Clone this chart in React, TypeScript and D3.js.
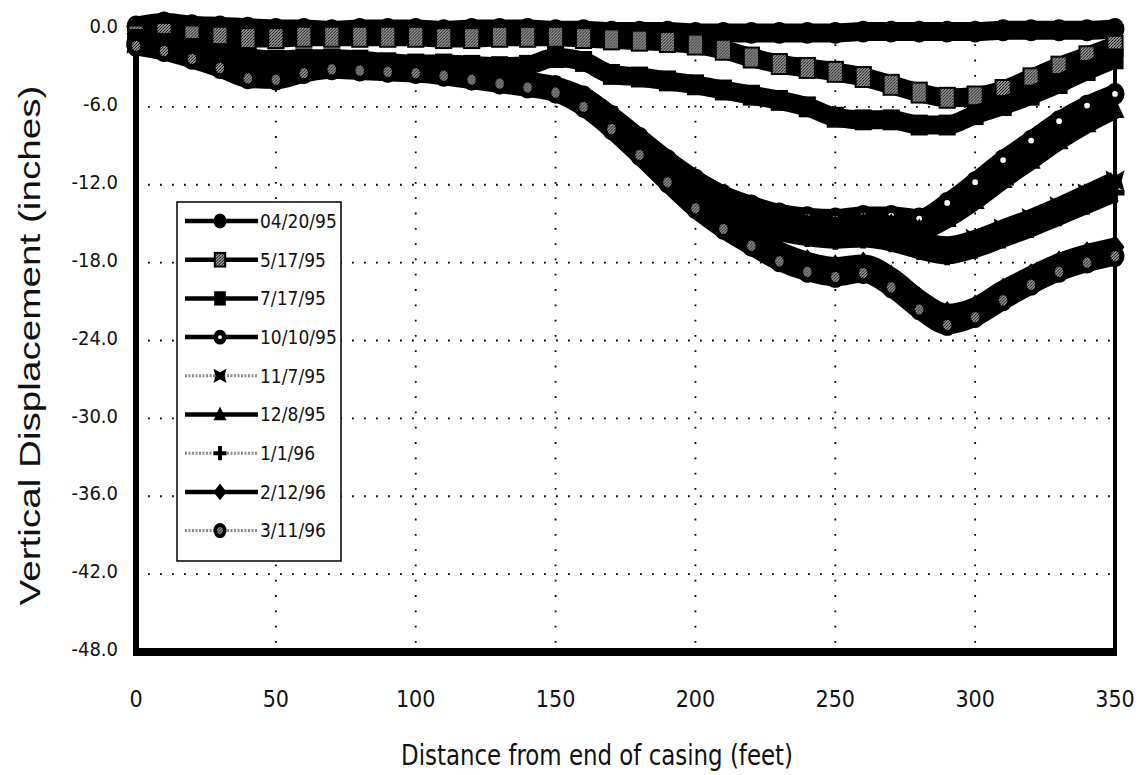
import React from "react";
import * as d3 from "d3";

// ---------- data ----------
const distance = [0, 10, 20, 30, 40, 50, 60, 70, 80, 90, 100, 110, 120, 130, 140, 150, 160, 170, 180, 190, 200, 210, 220, 230, 240, 250, 260, 270, 280, 290, 300, 310, 320, 330, 340, 350];

const d042095 = [0.2, 0.5, 0.3, 0.2, 0.1, 0.0, 0.0, -0.1, 0.0, 0.0, 0.0, -0.1, 0.0, 0.0, 0.0, -0.1, -0.1, -0.2, -0.2, -0.2, -0.3, -0.3, -0.3, -0.3, -0.3, -0.3, -0.2, -0.2, -0.2, -0.2, -0.2, -0.1, -0.1, -0.1, -0.1, 0.0];
const d051795 = [-0.5, -0.3, -0.5, -0.6, -0.7, -0.7, -0.6, -0.6, -0.6, -0.6, -0.6, -0.7, -0.7, -0.6, -0.6, -0.6, -0.7, -0.8, -0.9, -1.0, -1.2, -1.6, -2.2, -2.7, -3.0, -3.3, -3.7, -4.3, -4.9, -5.3, -5.2, -4.7, -3.8, -2.9, -2.1, -1.3];
const d071795 = [-0.8, -1.1, -1.5, -1.9, -2.2, -2.4, -2.3, -2.3, -2.4, -2.6, -2.7, -2.7, -2.8, -2.9, -2.8, -2.2, -2.5, -3.5, -3.7, -4.0, -4.3, -4.7, -5.1, -5.5, -6.0, -6.8, -7.0, -7.0, -7.4, -7.4, -6.6, -5.9, -5.1, -4.2, -3.2, -2.3];
const d101095 = [-1.0, -1.3, -1.8, -2.5, -3.2, -3.4, -3.0, -2.7, -2.8, -2.9, -3.0, -3.1, -3.4, -3.7, -4.0, -4.4, -5.2, -6.7, -8.4, -10.1, -11.6, -12.8, -13.6, -14.2, -14.5, -14.6, -14.4, -14.4, -14.6, -13.4, -11.8, -10.1, -8.6, -7.1, -5.9, -5.0];
const d110795 = [-1.1, -1.5, -2.0, -2.7, -3.5, -3.6, -3.2, -2.9, -3.0, -3.1, -3.2, -3.4, -3.6, -3.9, -4.2, -4.6, -5.5, -7.1, -8.9, -10.8, -12.4, -13.6, -14.5, -15.1, -15.5, -15.7, -15.6, -15.8, -16.4, -16.7, -16.2, -15.4, -14.6, -13.7, -12.7, -11.7];
const d120895 = [-1.1, -1.4, -1.9, -2.6, -3.4, -3.5, -3.1, -2.8, -2.9, -3.0, -3.1, -3.3, -3.5, -3.8, -4.1, -4.5, -5.4, -6.9, -8.7, -10.5, -12.0, -13.2, -14.1, -14.7, -15.1, -15.2, -15.0, -15.1, -15.5, -14.6, -13.2, -11.6, -10.1, -8.6, -7.3, -6.2];
const d010196 = [-1.2, -1.5, -2.1, -2.8, -3.6, -3.7, -3.3, -3.0, -3.0, -3.1, -3.3, -3.5, -3.7, -4.0, -4.3, -4.7, -5.7, -7.3, -9.2, -11.1, -12.8, -14.0, -15.0, -15.6, -16.0, -16.2, -16.1, -16.4, -17.0, -17.4, -16.9, -16.1, -15.3, -14.4, -13.5, -12.6];
const d021296 = [-1.2, -1.6, -2.1, -2.9, -3.7, -3.8, -3.3, -3.0, -3.1, -3.2, -3.3, -3.5, -3.8, -4.1, -4.4, -4.8, -5.8, -7.5, -9.4, -11.4, -13.3, -14.8, -16.0, -17.1, -17.9, -18.3, -18.1, -19.1, -20.8, -21.9, -21.4, -20.1, -19.0, -18.0, -17.3, -16.8];
const d031196 = [-1.3, -1.7, -2.3, -3.0, -3.8, -3.9, -3.4, -3.1, -3.2, -3.3, -3.4, -3.6, -3.9, -4.2, -4.5, -4.9, -6.0, -7.7, -9.7, -11.8, -13.8, -15.4, -16.7, -17.9, -18.7, -19.1, -18.8, -19.9, -21.6, -22.8, -22.2, -20.9, -19.7, -18.7, -18.0, -17.5];

const seriesNames = ["04/20/95", "5/17/95", "7/17/95", "10/10/95", "11/7/95", "12/8/95", "1/1/96", "2/12/96", "3/11/96"];
const seriesValues = [d042095, d051795, d071795, d101095, d110795, d120895, d010196, d021296, d031196];
const seriesMarkers = ["circle", "hatchSquare", "square", "dotCircle", "bowtie", "triangle", "plus", "diamond", "hatchCircle"];
const seriesGrey = [false, false, false, false, true, false, true, false, true];

const yTicks = [0, -6, -12, -18, -24, -30, -36, -42, -48];
const xTicks = [0, 50, 100, 150, 200, 250, 300, 350];

const xTitle = "Distance from end of casing (feet)";
const yTitle = "Vertical Displacement (inches)";

// ---------- layout ----------
const W = 1143;
const H = 775;
const left = 136;
const right = 1115;
const top = 29;
const bottom = 652;
const narrow = "'Liberation Sans Narrow', 'Arial Narrow', 'DejaVu Sans Condensed', sans-serif";
const ink = "#000";

function Marker({ kind, x, y, s }: { kind: string; x: number; y: number; s: number }) {
  const t = `translate(${x},${y})`;
  switch (kind) {
    case "circle":
      return <ellipse transform={t} rx={s} ry={s * 1.15} fill={ink} />;
    case "hatchSquare":
      return <rect transform={t} x={-s * 0.8} y={-s * 1.05} width={s * 1.6} height={s * 2.1} fill="url(#hatch)" stroke={ink} strokeWidth={2} />;
    case "square":
      return <rect transform={t} x={-s * 0.9} y={-s * 1.1} width={s * 1.8} height={s * 2.2} fill={ink} />;
    case "dotCircle":
      return (
        <g transform={t}>
          <ellipse rx={s} ry={s * 1.15} fill={ink} />
          <circle r={s * 0.3} fill="#fff" />
        </g>
      );
    case "bowtie":
      return (
        <path
          transform={t}
          d={`M${-s},${-s * 1.1} L0,${-s * 0.55} L${s},${-s * 1.1} L${s * 0.7},0 L${s},${s * 1.1} L0,${s * 0.55} L${-s},${s * 1.1} L${-s * 0.7},0 Z`}
          fill={ink}
        />
      );
    case "triangle":
      return <path transform={t} d={`M0,${-s * 1.25} L${s},${s * 0.9} L${-s},${s * 0.9} Z`} fill={ink} />;
    case "plus":
      return (
        <path
          transform={t}
          d={`M${-s * 0.3},${-s * 1.1} H${s * 0.3} V${-s * 0.3} H${s} V${s * 0.3} H${s * 0.3} V${s * 1.1} H${-s * 0.3} V${s * 0.3} H${-s} V${-s * 0.3} H${-s * 0.3} Z`}
          fill={ink}
        />
      );
    case "diamond":
      return <path transform={t} d={`M0,${-s * 1.3} L${s},0 L0,${s * 1.3} L${-s},0 Z`} fill={ink} />;
    case "hatchCircle":
      return (
        <g transform={t}>
          <ellipse rx={s} ry={s * 1.15} fill={ink} />
          <ellipse rx={s * 0.45} ry={s * 0.55} fill="url(#hatch)" />
        </g>
      );
    default:
      return null;
  }
}

export default function App() {
  const x = d3.scaleLinear().domain([0, 350]).range([left, right]);
  const y = d3.scaleLinear().domain([0, -48]).range([top, bottom]);
  const line = d3
    .line<number>()
    .x((_, i) => x(distance[i]))
    .y((v) => y(v))
    .curve(d3.curveMonotoneX);

  const legendX = 177;
  const legendY = 202;
  const legendW = 164;
  const legendH = 359;
  const rowY = (i: number) => 221 + i * 38.7;

  return (
    <svg width={W} height={H} style={{ position: "absolute", left: 0, top: 0, background: "#fff" }}>
      <defs>
        <pattern id="hatch" width="3" height="3" patternUnits="userSpaceOnUse">
          <rect width="3" height="3" fill="#9a9a9a" />
          <rect width="1" height="1" fill="#000" />
          <rect x="2" y="1" width="1" height="1" fill="#000" />
          <rect x="1" y="2" width="1" height="1" fill="#222" />
        </pattern>
      </defs>
      <rect width={W} height={H} fill="#fff" />

      {/* grid */}
      {yTicks.slice(1, -1).map((v) => (
        <line key={"gy" + v} x1={left} x2={right} y1={y(v)} y2={y(v)} stroke="#000" strokeWidth={1.8} strokeDasharray="1.8 10.2" />
      ))}
      {xTicks.slice(1, -1).map((v) => (
        <line key={"gx" + v} x1={x(v)} x2={x(v)} y1={top} y2={bottom} stroke="#000" strokeWidth={1.8} strokeDasharray="1.8 13.5" />
      ))}

      {/* frame */}
      <rect x={left} y={top} width={right - left} height={bottom - top} fill="none" stroke="#000" strokeWidth={4} />
      <line x1={left} x2={left} y1={top} y2={bottom + 4} stroke="#000" strokeWidth={6} />
      <line x1={left - 3} x2={right + 2} y1={bottom} y2={bottom} stroke="#000" strokeWidth={8} />

      {/* series */}
      {seriesValues.map((vals, si) => (
        <g key={"s" + si}>
          <path d={line(vals) || ""} fill="none" stroke={ink} strokeWidth={19} strokeLinejoin="round" strokeLinecap="butt" />
          {vals.map((v, i) => (
            <Marker key={i} kind={seriesMarkers[si]} x={x(distance[i])} y={y(v)} s={9.5} />
          ))}
        </g>
      ))}

      {/* y tick labels */}
      {yTicks.map((v) => (
        <text key={"yl" + v} x={118} y={y(v) - 3} dy="0.36em" textAnchor="end" fontFamily={narrow} fontSize={20} fill="#111">
          {v.toFixed(1)}
        </text>
      ))}
      {/* x tick labels */}
      {xTicks.map((v) => (
        <text key={"xl" + v} x={x(v)} y={707} textAnchor="middle" fontFamily={narrow} fontSize={23} fill="#111">
          {v}
        </text>
      ))}

      {/* axis titles */}
      <text x={597} y={765} textAnchor="middle" fontFamily={narrow} fontSize={29} fill="#111" textLength={392} lengthAdjust="spacingAndGlyphs">
        {xTitle}
      </text>
      <text
        transform={`translate(40,${(top + bottom) / 2 + 5}) rotate(-90)`}
        textAnchor="middle"
        fontFamily="'Liberation Sans', Arial, sans-serif"
        fontSize={29}
        fill="#111"
        textLength={520}
        lengthAdjust="spacingAndGlyphs"
      >
        {yTitle}
      </text>

      {/* legend */}
      <rect x={legendX} y={legendY} width={legendW} height={legendH} fill="#fff" stroke="#000" strokeWidth={1.5} />
      {seriesNames.map((name, i) => (
        <g key={"lg" + i}>
          <line
            x1={185}
            x2={258}
            y1={rowY(i)}
            y2={rowY(i)}
            stroke={seriesGrey[i] ? "#8a8a8a" : ink}
            strokeWidth={seriesGrey[i] ? 3 : 4.5}
            strokeDasharray={seriesGrey[i] ? "2 1.5" : undefined}
          />
          <Marker kind={seriesMarkers[i]} x={220} y={rowY(i)} s={6.5} />
          <text x={260} y={rowY(i)} dy="0.36em" fontFamily={narrow} fontSize={19} fill="#111">
            {name}
          </text>
        </g>
      ))}
    </svg>
  );
}
